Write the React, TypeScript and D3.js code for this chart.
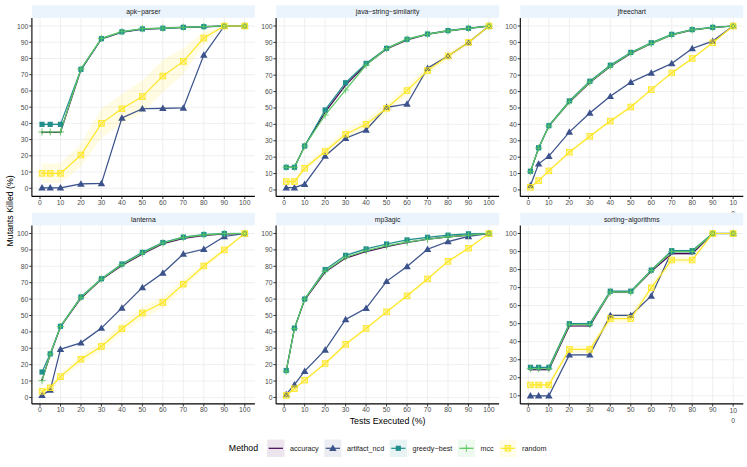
import React from 'react';
import * as d3 from 'd3';

const W = 747;
const H = 467;
const FONT = "'Liberation Sans', Arial, Helvetica, sans-serif";

const testsExecuted = [1, 5, 10, 20, 30, 40, 50, 60, 70, 80, 90, 100];
const xTicks = [0, 10, 20, 30, 40, 50, 60, 70, 80, 90, 100];
const methods = ['accuracy', 'artifact_ncd', 'greedy-best', 'mcc', 'random'];
const methodLabels = ['accuracy', 'artifact_ncd', 'greedy\u2212best', 'mcc', 'random'];
const methodColors = ['#440154', '#3B528B', '#21908C', '#5DC863', '#FDE725'];
const projects = ['apk-parser', 'java-string-similarity', 'jfreechart', 'lanterna', 'mp3agic', 'sorting-algorithms'];
const projectLabels = ['apk\u2212parser', 'java\u2212string\u2212similarity', 'jfreechart', 'lanterna', 'mp3agic', 'sorting\u2212algorithms'];

// apk-parser
const apkAccuracy = [34.5, 34.5, 34.5, 73, 92, 96.2, 98, 98.6, 99.1, 99.5, 100, 100];
const apkArtifact = [0.3, 0.3, 0.3, 2.7, 3, 43.3, 49, 49.3, 49.5, 82.1, 100, 100];
const apkGreedy = [39.4, 39.4, 39.4, 73.3, 92.2, 96.4, 98.2, 98.6, 99.2, 99.6, 100, 100];
const apkMcc = [34.7, 34.7, 34.7, 73.5, 92.4, 96.5, 98.3, 98.7, 99.2, 99.6, 100, 100];
const apkRandom = [9.2, 9.2, 9.2, 20.5, 40, 49, 56.5, 69.2, 78.2, 92.6, 100, 100];
const apkRandomBand = [6, 6, 6, 7, 9, 9, 10, 10, 8, 4, 0, 0];

// java-string-similarity
const javaAccuracy = [13.8, 13.8, 26.8, 47.5, 64, 76.5, 86, 91.5, 95, 97, 98.6, 100];
const javaArtifact = [1.4, 1.4, 3.5, 20.7, 31.5, 36.6, 50.4, 52.4, 74.2, 81.7, 90, 100];
const javaGreedy = [13.8, 13.8, 26.8, 48.8, 65.4, 77.2, 86.4, 91.9, 95.1, 97.2, 98.6, 100];
const javaMcc = [13.8, 13.8, 26.8, 45.7, 61, 76.2, 86.2, 92, 95, 97, 98.6, 100];
const javaRandom = [5.1, 5.1, 13.2, 23.4, 34, 40, 49.8, 60.6, 72.8, 81.7, 90, 100];
const javaRandomBand = [1.5, 1.5, 2, 2.5, 3, 3, 3, 3, 2.5, 2, 1, 0];

// jfreechart
const jfreeAccuracy = [11, 25.5, 39, 53.5, 65.5, 75.3, 83.3, 89.3, 94.5, 97.6, 99.1, 100];
const jfreeArtifact = [2.7, 15.9, 20.6, 35.3, 46.9, 57.1, 65.7, 71.4, 77.1, 86.3, 90.8, 100];
const jfreeGreedy = [11.4, 25.7, 39.2, 54.3, 66.3, 76.1, 83.9, 89.8, 94.9, 97.8, 99.2, 100];
const jfreeMcc = [11.2, 25.5, 39, 53.8, 65.8, 75.5, 83.5, 89.4, 94.6, 97.7, 99.1, 100];
const jfreeRandom = [1.6, 5.7, 11.6, 23, 32.7, 42, 50.6, 61.2, 71.4, 80.2, 89.8, 100];
const jfreeRandomBand = [0.5, 0.5, 1, 1, 1, 1, 1, 1, 1, 1, 0.5, 0];

// lanterna
const lanternaAccuracy = [10.6, 26, 43, 60.5, 72, 80.5, 87.5, 93.8, 97, 98.8, 99.7, 100];
const lanternaArtifact = [1.4, 4.5, 29.4, 33.3, 42.3, 54.6, 67.1, 75.9, 87.5, 90.4, 98.2, 100];
const lanternaGreedy = [15.5, 26.6, 43.4, 61.3, 72.4, 81.4, 88.5, 94.5, 97.8, 99.4, 100, 100];
const lanternaMcc = [10.2, 26.4, 43.2, 61, 72.2, 81, 88, 94.2, 97.5, 99.2, 99.9, 100];
const lanternaRandom = [3.7, 5.9, 12.7, 23.3, 31.1, 41.9, 51.5, 57.9, 69.1, 80.2, 90, 100];
const lanternaRandomBand = [1.5, 1.5, 2, 2.5, 3, 3, 3.5, 3.5, 3, 2, 1, 0];

// mp3agic
const mp3Accuracy = [16, 42, 59.5, 76.5, 85, 89, 92, 94.5, 96.5, 98, 99, 100];
const mp3Artifact = [1.8, 7.8, 16, 29, 47.6, 54.4, 70.8, 79.9, 90.4, 95.1, 98.2, 100];
const mp3Greedy = [16.4, 42.3, 60, 78, 86.7, 90.6, 93.6, 96.1, 97.7, 99, 99.8, 100];
const mp3Mcc = [16, 42, 60, 77, 85.5, 89.5, 92.5, 94.8, 96.5, 98, 99, 100];
const mp3Random = [1.2, 5.3, 10.5, 20.7, 32.4, 42.1, 52.2, 62, 72.3, 83, 91, 100];
const mp3RandomBand = [0.5, 0.5, 0.5, 1, 1, 1, 1, 1, 1, 1, 0.5, 0];

// sorting-algorithms
const sortingAccuracy = [24.5, 24.5, 24.5, 48.7, 48.7, 67.5, 67.5, 79, 88.8, 88.8, 100, 100];
const sortingArtifact = [10, 10, 10, 32.7, 32.7, 54.6, 54.6, 65.4, 90, 90, 100, 100];
const sortingGreedy = [25.8, 25.8, 25.8, 50, 50, 68, 68, 79.7, 90.5, 90.5, 100, 100];
const sortingMcc = [25, 25, 25, 49.5, 49.5, 67.5, 67.5, 79.5, 90, 90, 100, 100];
const sortingRandom = [16, 16, 16, 35.7, 35.7, 52.8, 52.8, 69.9, 85.3, 85.3, 100, 100];
const sortingRandomBand = [1.5, 1.5, 1.5, 2, 2, 2.5, 2.5, 2.5, 2, 2, 0, 0];

const projectSeries = [
  [apkAccuracy, apkArtifact, apkGreedy, apkMcc, apkRandom],
  [javaAccuracy, javaArtifact, javaGreedy, javaMcc, javaRandom],
  [jfreeAccuracy, jfreeArtifact, jfreeGreedy, jfreeMcc, jfreeRandom],
  [lanternaAccuracy, lanternaArtifact, lanternaGreedy, lanternaMcc, lanternaRandom],
  [mp3Accuracy, mp3Artifact, mp3Greedy, mp3Mcc, mp3Random],
  [sortingAccuracy, sortingArtifact, sortingGreedy, sortingMcc, sortingRandom],
];
const randomBands = [apkRandomBand, javaRandomBand, jfreeRandomBand, lanternaRandomBand, mp3RandomBand, sortingRandomBand];

// layout
const colLeft = [31.9, 276.1, 520.3];
const panelW = 223.0;
const rowTop = [17.9, 225.4];
const panelH = 178.5;
const stripH = 12.6;
const tickFont = 6.8;
const textGrey = '#4D4D4D';

function bandFor(pi: number, mi: number): number[] {
  if (mi === 4) return randomBands[pi];
  return testsExecuted.map(() => 0.6);
}

function Marker({ mi, x, y }: { mi: number; x: number; y: number }) {
  const c = methodColors[mi];
  if (mi === 0) return <circle cx={x} cy={y} r={1.1} fill={c} />;
  if (mi === 1) {
    const p = d3.symbol().type(d3.symbolTriangle).size(24)();
    return <path d={p || ''} transform={`translate(${x},${y + 0.6})`} fill={c} />;
  }
  if (mi === 2) return <rect x={x - 2.6} y={y - 2.6} width={5.2} height={5.2} fill={c} />;
  if (mi === 3)
    return (
      <g stroke={c} strokeWidth={0.9}>
        <line x1={x - 3.6} x2={x + 3.6} y1={y} y2={y} />
        <line x1={x} x2={x} y1={y - 3.6} y2={y + 3.6} />
      </g>
    );
  return (
    <g stroke={c} strokeWidth={0.9} fill="none">
      <rect x={x - 2.8} y={y - 2.8} width={5.6} height={5.6} fill={c} fillOpacity={0.25} />
      <line x1={x - 2.8} x2={x + 2.8} y1={y - 2.8} y2={y + 2.8} />
      <line x1={x - 2.8} x2={x + 2.8} y1={y + 2.8} y2={y - 2.8} />
    </g>
  );
}

function Panel({ pi }: { pi: number }) {
  const col = pi % 3;
  const row = Math.floor(pi / 3);
  const left = colLeft[col];
  const top = rowTop[row];
  const series = projectSeries[pi];
  const allVals: number[] = [];
  series.forEach((s, mi) => {
    const b = bandFor(pi, mi);
    s.forEach((v, i) => {
      allVals.push(v - b[i], Math.min(100, v + b[i]));
    });
  });
  const yMin = Math.max(0, Math.floor(d3.min(series.flat()) as number));
  const yMax = 100;
  const yPad = (yMax - yMin) * 0.05;
  const xMin = testsExecuted[0];
  const xMax = testsExecuted[testsExecuted.length - 1];
  const xPad = (xMax - xMin) * 0.05;
  const x = d3.scaleLinear().domain([xMin - xPad, xMax + xPad]).range([left, left + panelW]);
  const y = d3.scaleLinear().domain([yMin - yPad, yMax + yPad]).range([top + panelH, top]);
  const yTicks = d3.ticks(yMin - yPad, yMax + yPad, 10).filter((t) => t >= yMin - yPad && t <= yMax + yPad && t % 10 === 0);

  const line = d3
    .line<number>()
    .x((_, i) => x(testsExecuted[i]))
    .y((d) => y(d));
  const area = (vals: number[], band: number[]) =>
    d3
      .area<number>()
      .x((_, i) => x(testsExecuted[i]))
      .y0((d, i) => y(Math.max(yMin - yPad, d - band[i])))
      .y1((d, i) => y(Math.min(yMax + yPad, d + band[i])))(vals) || '';

  const bottom = top + panelH;
  const wrapHundred = col === 2;

  return (
    <g>
      {/* strip */}
      <rect x={left} y={top - stripH} width={panelW} height={stripH} fill="#EBF4FD" />
      <text
        x={left + panelW / 2}
        y={top - stripH / 2}
        textAnchor="middle"
        dominantBaseline="central"
        fontSize={tickFont}
        fill="#1A1A1A"
        fontFamily={FONT}
      >
        {projectLabels[pi]}
      </text>
      {/* grid */}
      <g stroke="#EBEBEB" strokeWidth={0.8}>
        {xTicks.map((t) => (
          <line key={'gx' + t} x1={x(t)} x2={x(t)} y1={top} y2={bottom} />
        ))}
        {yTicks.map((t) => (
          <line key={'gy' + t} x1={left} x2={left + panelW} y1={y(t)} y2={y(t)} />
        ))}
      </g>
      {/* ribbons */}
      {series.map((s, mi) => (
        <path key={'r' + mi} d={area(s, bandFor(pi, mi))} fill={methodColors[mi]} fillOpacity={mi === 4 ? 0.13 : 0.12} />
      ))}
      {/* lines */}
      {series.map((s, mi) => (
        <path key={'l' + mi} d={line(s) || ''} fill="none" stroke={methodColors[mi]} strokeWidth={1.2} />
      ))}
      {/* points */}
      {series.map((s, mi) => (
        <g key={'p' + mi}>
          {s.map((v, i) => (
            <Marker key={i} mi={mi} x={x(testsExecuted[i])} y={y(v)} />
          ))}
        </g>
      ))}
      {/* axes */}
      <line x1={left} x2={left + panelW} y1={bottom} y2={bottom} stroke="#000" strokeWidth={1.1} />
      <line x1={left} x2={left} y1={top} y2={bottom} stroke="#000" strokeWidth={1.1} />
      {xTicks.map((t) => (
        <g key={'xt' + t}>
          <line x1={x(t)} x2={x(t)} y1={bottom} y2={bottom + 2.6} stroke="#333" strokeWidth={1} />
          {wrapHundred && t === 100 ? (
            <text x={x(t)} y={bottom + 5.6} textAnchor="middle" dominantBaseline="central" fontSize={tickFont} fill={textGrey} fontFamily={FONT}>
              <tspan x={x(t)}>10</tspan>
              <tspan x={x(t)} dy={10.5}>0</tspan>
            </text>
          ) : (
            <text x={x(t)} y={bottom + 5.6} textAnchor="middle" dominantBaseline="central" fontSize={tickFont} fill={textGrey} fontFamily={FONT}>
              {t}
            </text>
          )}
        </g>
      ))}
      {yTicks.map((t) => (
        <g key={'yt' + t}>
          <line x1={left - 2.6} x2={left} y1={y(t)} y2={y(t)} stroke="#333" strokeWidth={1} />
          <text x={left - 3.6} y={y(t)} textAnchor="end" dominantBaseline="central" fontSize={tickFont} fill={textGrey} fontFamily={FONT}>
            {t}
          </text>
        </g>
      ))}
    </g>
  );
}

function measure(text: string, size: number): number {
  const ctx = document.createElement('canvas').getContext('2d');
  if (!ctx) return text.length * size * 0.5;
  ctx.font = `${size}px ${FONT}`;
  return ctx.measureText(text).width;
}

function Legend() {
  const titleSize = 8.8;
  const labelSize = 7.2;
  const keySize = 17.3;
  const cy = 448.3;
  const titleW = measure('Method', titleSize);
  const labelW = methodLabels.map((l) => measure(l, labelSize));
  const gapTitle = 9;
  const gapKeyLabel = 5.5;
  const gapItem = 5.5;
  const total = titleW + gapTitle + labelW.reduce((a, w) => a + keySize + gapKeyLabel + w, 0) + gapItem * (methods.length - 1);
  const center = (colLeft[0] + colLeft[2] + panelW) / 2;
  let cx = center - total / 2;
  const items: React.ReactNode[] = [];
  items.push(
    <text key="title" x={cx} y={cy} dominantBaseline="central" fontSize={titleSize} fill="#000" fontFamily={FONT}>
      Method
    </text>
  );
  cx += titleW + gapTitle;
  methods.forEach((m, mi) => {
    const kx = cx;
    const c = methodColors[mi];
    items.push(
      <g key={m}>
        <rect x={kx} y={cy - keySize / 2} width={keySize} height={keySize} fill={c} fillOpacity={0.1} />
        <line x1={kx + 1.5} x2={kx + keySize - 1.5} y1={cy} y2={cy} stroke={c} strokeWidth={1.2} />
        {mi > 0 && <Marker mi={mi} x={kx + keySize / 2} y={cy} />}
        <text x={kx + keySize + gapKeyLabel} y={cy} dominantBaseline="central" fontSize={labelSize} fill="#1A1A1A" fontFamily={FONT}>
          {methodLabels[mi]}
        </text>
      </g>
    );
    cx += keySize + gapKeyLabel + labelW[mi] + gapItem;
  });
  return <g>{items}</g>;
}

export default function App() {
  const plotCenterX = (colLeft[0] + colLeft[2] + panelW) / 2;
  const plotCenterY = (rowTop[0] + rowTop[1] + panelH) / 2;
  return (
    <svg
      width={W}
      height={H}
      viewBox={`0 0 ${W} ${H}`}
      style={{ position: 'fixed', left: 0, top: 0, background: '#fff' }}
      fontFamily={FONT}
    >
      <rect x={0} y={0} width={W} height={H} fill="#fff" />
      {projects.map((p, pi) => (
        <Panel key={p} pi={pi} />
      ))}
      <text x={plotCenterX} y={420.5} textAnchor="middle" dominantBaseline="central" fontSize={8.8} fill="#000" fontFamily={FONT}>
        Tests Executed (%)
      </text>
      <text
        transform={`translate(9.5, ${plotCenterY}) rotate(-90)`}
        textAnchor="middle"
        dominantBaseline="central"
        fontSize={8.8}
        fill="#000"
        fontFamily={FONT}
      >
        Mutants Killed (%)
      </text>
      <Legend />
    </svg>
  );
}
